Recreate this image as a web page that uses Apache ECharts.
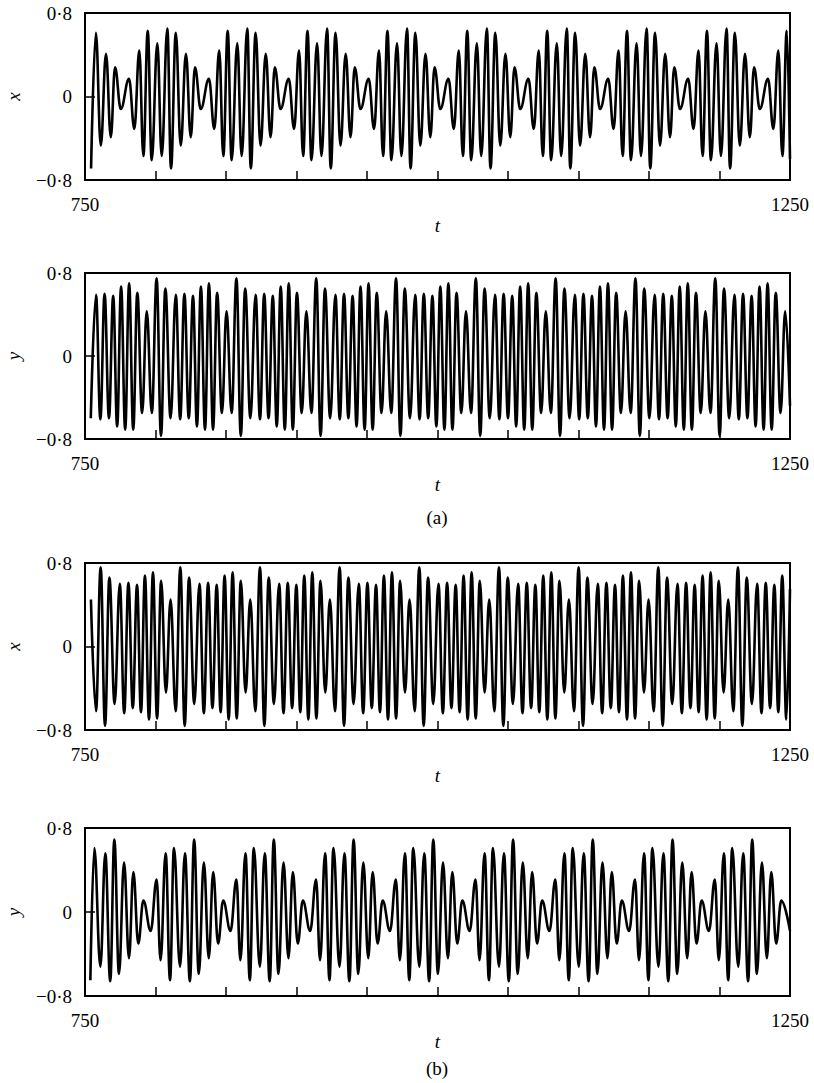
<!DOCTYPE html>
<html>
<head>
<meta charset="utf-8">
<script src="https://cdn.jsdelivr.net/npm/echarts@6/dist/echarts.min.js"></script>
<style>html,body{margin:0;padding:0;background:#fff}#c{width:814px;height:1083px}</style>
</head>
<body>
<div id="c"></div>
<script>
// ---- tick labels ----
const xTickLabels = [750, 1250];
const yTickLabels = {'-0.8': '\u22120\u00b78', '0': '0', '0.8': '0\u00b78'};
const panelYNames = ['x', 'y', 'x', 'y'];
const captions = ['(a)', '(b)'];

// ---- panel (a) x : turning points ----
const A_X_T = [
 754.3, 757.7, 761.2, 764.9, 768.3, 771.3, 775.4, 781.2, 785.0, 788.5, 791.4, 794.5, 797.3, 801.3, 804.4, 808.4,
 811.0, 814.4, 817.9, 821.6, 825.0, 828.0, 832.1, 837.9, 841.7, 845.2, 848.1, 851.2, 854.0, 858.0, 861.1, 865.1,
 867.6, 871.0, 874.5, 878.2, 881.6, 884.6, 888.7, 894.5, 898.3, 901.8, 904.7, 907.8, 910.6, 914.6, 917.7, 921.7,
 924.3, 927.7, 931.2, 934.9, 938.3, 941.3, 945.4, 951.2, 955.0, 958.5, 961.4, 964.5, 967.3, 971.3, 974.4, 978.4,
 980.9, 984.3, 987.8, 991.5, 994.9, 997.9, 1002.0, 1007.8, 1011.6, 1015.1, 1018.0, 1021.1, 1023.9, 1027.9, 1031.0, 1035.0,
 1037.6, 1041.0, 1044.5, 1048.2, 1051.6, 1054.6, 1058.7, 1064.5, 1068.3, 1071.8, 1074.7, 1077.8, 1080.6, 1084.6, 1087.7, 1091.7,
 1094.2, 1097.6, 1101.1, 1104.8, 1108.2, 1111.2, 1115.3, 1121.1, 1124.9, 1128.4, 1131.3, 1134.4, 1137.2, 1141.2, 1144.3, 1148.3,
 1150.9, 1154.3, 1157.8, 1161.5, 1164.9, 1167.9, 1172.0, 1177.8, 1181.6, 1185.1, 1188.0, 1191.1, 1193.9, 1197.9, 1201.0, 1205.0,
 1207.5, 1210.9, 1214.4, 1218.1, 1221.5, 1224.5, 1228.6, 1234.4, 1238.2, 1241.7, 1244.6, 1247.7, 1250
];
const A_X_V = [
 -0.69, 0.61, -0.47, 0.41, -0.39, 0.28, -0.12, 0.17, -0.31, 0.44, -0.57, 0.63, -0.61, 0.51, -0.57, 0.65,
 -0.69, 0.61, -0.47, 0.41, -0.39, 0.28, -0.12, 0.17, -0.31, 0.44, -0.57, 0.63, -0.61, 0.51, -0.57, 0.65,
 -0.69, 0.61, -0.47, 0.41, -0.39, 0.28, -0.12, 0.17, -0.31, 0.44, -0.57, 0.63, -0.61, 0.51, -0.57, 0.65,
 -0.69, 0.61, -0.47, 0.41, -0.39, 0.28, -0.12, 0.17, -0.31, 0.44, -0.57, 0.63, -0.61, 0.51, -0.57, 0.65,
 -0.69, 0.61, -0.47, 0.41, -0.39, 0.28, -0.12, 0.17, -0.31, 0.44, -0.57, 0.63, -0.61, 0.51, -0.57, 0.65,
 -0.69, 0.61, -0.47, 0.41, -0.39, 0.28, -0.12, 0.17, -0.31, 0.44, -0.57, 0.63, -0.61, 0.51, -0.57, 0.65,
 -0.69, 0.61, -0.47, 0.41, -0.39, 0.28, -0.12, 0.17, -0.31, 0.44, -0.57, 0.63, -0.61, 0.51, -0.57, 0.65,
 -0.69, 0.61, -0.47, 0.41, -0.39, 0.28, -0.12, 0.17, -0.31, 0.44, -0.57, 0.63, -0.61, 0.51, -0.57, 0.65,
 -0.69, 0.61, -0.47, 0.41, -0.39, 0.28, -0.12, 0.17, -0.31, 0.44, -0.57, 0.63, -0.60
];

// ---- panel (a) y ----
const A_Y_T = [
 754.1, 757.8, 760.9, 763.9, 767.0, 770.0, 772.8, 775.6, 778.5, 781.3, 784.2, 787.1, 790.5, 793.8, 797.4,
 800.8, 803.9, 807.0, 810.7, 814.4, 817.5, 820.5, 823.6, 826.6, 829.4, 832.2, 835.1, 837.9, 840.8, 843.7, 847.1, 850.4, 854.0,
 857.4, 860.5, 863.6, 867.3, 871.0, 874.1, 877.1, 880.2, 883.2, 886.0, 888.8, 891.7, 894.5, 897.4, 900.3, 903.7, 907.0, 910.6,
 914.0, 917.1, 920.2, 923.9, 927.6, 930.7, 933.7, 936.8, 939.8, 942.6, 945.4, 948.3, 951.1, 954.0, 956.9, 960.3, 963.6, 967.2,
 970.6, 973.7, 976.8, 980.5, 984.2, 987.3, 990.3, 993.4, 996.4, 999.2, 1002.0, 1004.9, 1007.7, 1010.6, 1013.5, 1016.9, 1020.2, 1023.8,
 1027.2, 1030.3, 1033.4, 1037.1, 1040.8, 1043.9, 1046.9, 1050.0, 1053.0, 1055.8, 1058.6, 1061.5, 1064.3, 1067.2, 1070.1, 1073.5, 1076.8, 1080.4,
 1083.8, 1086.9, 1090.0, 1093.7, 1097.4, 1100.5, 1103.5, 1106.6, 1109.6, 1112.4, 1115.2, 1118.1, 1120.9, 1123.8, 1126.7, 1130.1, 1133.4, 1137.0,
 1140.4, 1143.5, 1146.6, 1150.3, 1154.0, 1157.1, 1160.1, 1163.2, 1166.2, 1169.0, 1171.8, 1174.7, 1177.5, 1180.4, 1183.3, 1186.7, 1190.0, 1193.6,
 1197.0, 1200.1, 1203.2, 1206.9, 1210.6, 1213.7, 1216.7, 1219.8, 1222.8, 1225.6, 1228.4, 1231.3, 1234.1, 1237.0, 1239.9, 1243.3, 1246.6, 1250
];
const A_Y_V = [
 -0.60, 0.59, -0.61, 0.60, -0.60, 0.58, -0.68, 0.67, -0.71, 0.70, -0.71, 0.61, -0.55, 0.43, -0.55,
 0.75, -0.77, 0.65, -0.60, 0.59, -0.61, 0.60, -0.60, 0.58, -0.68, 0.67, -0.71, 0.70, -0.71, 0.61, -0.55, 0.43, -0.55,
 0.75, -0.77, 0.65, -0.60, 0.59, -0.61, 0.60, -0.60, 0.58, -0.68, 0.67, -0.71, 0.70, -0.71, 0.61, -0.55, 0.43, -0.55,
 0.75, -0.77, 0.65, -0.60, 0.59, -0.61, 0.60, -0.60, 0.58, -0.68, 0.67, -0.71, 0.70, -0.71, 0.61, -0.55, 0.43, -0.55,
 0.75, -0.77, 0.65, -0.60, 0.59, -0.61, 0.60, -0.60, 0.58, -0.68, 0.67, -0.71, 0.70, -0.71, 0.61, -0.55, 0.43, -0.55,
 0.75, -0.77, 0.65, -0.60, 0.59, -0.61, 0.60, -0.60, 0.58, -0.68, 0.67, -0.71, 0.70, -0.71, 0.61, -0.55, 0.43, -0.55,
 0.75, -0.77, 0.65, -0.60, 0.59, -0.61, 0.60, -0.60, 0.58, -0.68, 0.67, -0.71, 0.70, -0.71, 0.61, -0.55, 0.43, -0.55,
 0.75, -0.77, 0.65, -0.60, 0.59, -0.61, 0.60, -0.60, 0.58, -0.68, 0.67, -0.71, 0.70, -0.71, 0.61, -0.55, 0.43, -0.55,
 0.75, -0.77, 0.65, -0.60, 0.59, -0.61, 0.60, -0.60, 0.58, -0.68, 0.67, -0.71, 0.70, -0.71, 0.61, -0.55, 0.43, -0.48
];

// ---- panel (b) x ----
const B_X_T = [
 754.2, 757.8,
 761.1, 764.2, 767.3, 771.0, 774.7, 777.8, 780.8, 783.9, 786.9, 789.7, 792.5, 795.4, 798.2, 801.1, 804.0, 807.4, 810.7, 814.3,
 817.6, 820.7, 823.8, 827.5, 831.2, 834.3, 837.3, 840.4, 843.4, 846.2, 849.0, 851.9, 854.7, 857.6, 860.5, 863.9, 867.2, 870.8,
 874.1, 877.2, 880.3, 884.0, 887.7, 890.8, 893.8, 896.9, 899.9, 902.7, 905.5, 908.4, 911.2, 914.1, 917.0, 920.4, 923.7, 927.3,
 930.6, 933.7, 936.8, 940.5, 944.2, 947.3, 950.3, 953.4, 956.4, 959.2, 962.0, 964.9, 967.7, 970.6, 973.5, 976.9, 980.2, 983.8,
 987.1, 990.2, 993.3, 997.0, 1000.7, 1003.8, 1006.8, 1009.9, 1012.9, 1015.7, 1018.5, 1021.4, 1024.2, 1027.1, 1030.0, 1033.4, 1036.7, 1040.3,
 1043.6, 1046.7, 1049.8, 1053.5, 1057.2, 1060.3, 1063.3, 1066.4, 1069.4, 1072.2, 1075.0, 1077.9, 1080.7, 1083.6, 1086.5, 1089.9, 1093.2, 1096.8,
 1100.1, 1103.2, 1106.3, 1110.0, 1113.7, 1116.8, 1119.8, 1122.9, 1125.9, 1128.7, 1131.5, 1134.4, 1137.2, 1140.1, 1143.0, 1146.4, 1149.7, 1153.3,
 1156.6, 1159.7, 1162.8, 1166.5, 1170.2, 1173.3, 1176.3, 1179.4, 1182.4, 1185.2, 1188.0, 1190.9, 1193.7, 1196.6, 1199.5, 1202.9, 1206.2, 1209.8,
 1213.1, 1216.2, 1219.3, 1223.0, 1226.7, 1229.8, 1232.8, 1235.9, 1238.9, 1241.7, 1244.5, 1247.4, 1250
];
const B_X_V = [
 0.45, -0.62,
 0.76, -0.76, 0.66, -0.55, 0.60, -0.64, 0.61, -0.59, 0.59, -0.63, 0.68, -0.70, 0.71, -0.69, 0.63, -0.44, 0.45, -0.62,
 0.76, -0.76, 0.66, -0.55, 0.60, -0.64, 0.61, -0.59, 0.59, -0.63, 0.68, -0.70, 0.71, -0.69, 0.63, -0.44, 0.45, -0.62,
 0.76, -0.76, 0.66, -0.55, 0.60, -0.64, 0.61, -0.59, 0.59, -0.63, 0.68, -0.70, 0.71, -0.69, 0.63, -0.44, 0.45, -0.62,
 0.76, -0.76, 0.66, -0.55, 0.60, -0.64, 0.61, -0.59, 0.59, -0.63, 0.68, -0.70, 0.71, -0.69, 0.63, -0.44, 0.45, -0.62,
 0.76, -0.76, 0.66, -0.55, 0.60, -0.64, 0.61, -0.59, 0.59, -0.63, 0.68, -0.70, 0.71, -0.69, 0.63, -0.44, 0.45, -0.62,
 0.76, -0.76, 0.66, -0.55, 0.60, -0.64, 0.61, -0.59, 0.59, -0.63, 0.68, -0.70, 0.71, -0.69, 0.63, -0.44, 0.45, -0.62,
 0.76, -0.76, 0.66, -0.55, 0.60, -0.64, 0.61, -0.59, 0.59, -0.63, 0.68, -0.70, 0.71, -0.69, 0.63, -0.44, 0.45, -0.62,
 0.76, -0.76, 0.66, -0.55, 0.60, -0.64, 0.61, -0.59, 0.59, -0.63, 0.68, -0.70, 0.71, -0.69, 0.63, -0.44, 0.45, -0.62,
 0.76, -0.76, 0.66, -0.55, 0.60, -0.64, 0.61, -0.59, 0.59, -0.63, 0.68, -0.70, 0.55
];

// ---- panel (b) y ----
const B_Y_T = [
 753.8, 756.6, 760.9, 764.4, 767.9,
 770.8, 774.1, 777.7, 781.2, 784.3, 787.8, 791.4, 796.6, 800.8, 803.6, 807.2, 810.3, 813.1, 817.4, 820.9, 824.4,
 827.4, 830.7, 834.3, 837.8, 840.9, 844.4, 848.0, 853.2, 857.4, 860.2, 863.8, 866.9, 869.7, 874.0, 877.5, 881.0,
 883.9, 887.2, 890.8, 894.3, 897.4, 900.9, 904.5, 909.7, 913.9, 916.7, 920.3, 923.4, 926.2, 930.5, 934.0, 937.5,
 940.5, 943.8, 947.4, 950.9, 954.0, 957.5, 961.1, 966.3, 970.5, 973.3, 976.9, 980.0, 982.8, 987.1, 990.6, 994.1,
 997.0, 1000.3, 1003.9, 1007.4, 1010.5, 1014.0, 1017.6, 1022.8, 1027.0, 1029.8, 1033.4, 1036.5, 1039.3, 1043.6, 1047.1, 1050.6,
 1053.6, 1056.9, 1060.5, 1064.0, 1067.1, 1070.6, 1074.2, 1079.4, 1083.6, 1086.4, 1090.0, 1093.1, 1095.9, 1100.2, 1103.7, 1107.2,
 1110.1, 1113.4, 1117.0, 1120.5, 1123.6, 1127.1, 1130.7, 1135.9, 1140.1, 1142.9, 1146.5, 1149.6, 1152.4, 1156.7, 1160.2, 1163.7,
 1166.7, 1170.0, 1173.6, 1177.1, 1180.2, 1183.7, 1187.3, 1192.5, 1196.7, 1199.5, 1203.1, 1206.2, 1209.0, 1213.3, 1216.8, 1220.3,
 1223.2, 1226.5, 1230.1, 1233.6, 1236.7, 1240.2, 1243.8, 1250
];
const B_Y_V = [
 -0.65, 0.61, -0.52, 0.56, -0.66,
 0.69, -0.59, 0.47, -0.44, 0.38, -0.30, 0.11, -0.18, 0.31, -0.46, 0.56, -0.65, 0.61, -0.52, 0.56, -0.66,
 0.69, -0.59, 0.47, -0.44, 0.38, -0.30, 0.11, -0.18, 0.31, -0.46, 0.56, -0.65, 0.61, -0.52, 0.56, -0.66,
 0.69, -0.59, 0.47, -0.44, 0.38, -0.30, 0.11, -0.18, 0.31, -0.46, 0.56, -0.65, 0.61, -0.52, 0.56, -0.66,
 0.69, -0.59, 0.47, -0.44, 0.38, -0.30, 0.11, -0.18, 0.31, -0.46, 0.56, -0.65, 0.61, -0.52, 0.56, -0.66,
 0.69, -0.59, 0.47, -0.44, 0.38, -0.30, 0.11, -0.18, 0.31, -0.46, 0.56, -0.65, 0.61, -0.52, 0.56, -0.66,
 0.69, -0.59, 0.47, -0.44, 0.38, -0.30, 0.11, -0.18, 0.31, -0.46, 0.56, -0.65, 0.61, -0.52, 0.56, -0.66,
 0.69, -0.59, 0.47, -0.44, 0.38, -0.30, 0.11, -0.18, 0.31, -0.46, 0.56, -0.65, 0.61, -0.52, 0.56, -0.66,
 0.69, -0.59, 0.47, -0.44, 0.38, -0.30, 0.11, -0.18, 0.31, -0.46, 0.56, -0.65, 0.61, -0.52, 0.56, -0.66,
 0.69, -0.59, 0.47, -0.44, 0.38, -0.30, 0.11, -0.18
];

const panels = [[A_X_T, A_X_V], [A_Y_T, A_Y_V], [B_X_T, B_X_V], [B_Y_T, B_Y_V]];

// ---- layout ----
const FONT = 'Liberation Serif, Times New Roman, DejaVu Serif, serif';
const gridBoxes = [
  {left: 85, top: 13, width: 705, height: 167},
  {left: 85, top: 273, width: 705, height: 166},
  {left: 85, top: 563, width: 705, height: 167},
  {left: 85, top: 828, width: 705, height: 168}
];

function zip(ts, vs) {
  const n = Math.min(ts.length, vs.length);
  const out = [];
  for (let i = 0; i < n; i++) out.push([ts[i], vs[i]]);
  return out;
}

const option = {
  animation: false,
  backgroundColor: '#fff',
  grid: gridBoxes.map(g => Object.assign({
    show: true, borderColor: '#000', borderWidth: 2, backgroundColor: 'transparent',
    containLabel: false, outerBoundsMode: 'none'
  }, g)),
  xAxis: gridBoxes.map((g, i) => ({
    type: 'value', gridIndex: i, min: 750, max: 1250, interval: 50,
    axisLine: {show: false, onZero: false},
    axisTick: {show: true, inside: true, length: 9, lineStyle: {color: '#000', width: 1.5}},
    splitLine: {show: false},
    axisLabel: {
      show: true, margin: 15, color: '#000', fontFamily: FONT, fontSize: 19,
      formatter: v => (xTickLabels.indexOf(v) >= 0 ? String(v) : '')
    },
    name: 't', nameLocation: 'middle', nameGap: 36,
    nameTextStyle: {color: '#000', fontFamily: FONT, fontSize: 19, fontStyle: 'italic'}
  })),
  yAxis: gridBoxes.map((g, i) => ({
    type: 'value', gridIndex: i, min: -0.8, max: 0.8, interval: 0.8,
    axisLine: {show: false, onZero: false},
    axisTick: {show: true, inside: true, length: 10, lineStyle: {color: '#000', width: 1.5}},
    splitLine: {show: false},
    axisLabel: {
      show: true, margin: 13, color: '#000', fontFamily: FONT, fontSize: 19,
      formatter: v => {
        const k = String(Math.round(v * 10) / 10);
        return yTickLabels[k] !== undefined ? yTickLabels[k] : '';
      }
    },
    name: panelYNames[i], nameLocation: 'middle', nameGap: 62, nameRotate: 90,
    nameTextStyle: {color: '#000', fontFamily: FONT, fontSize: 19, fontStyle: 'italic'}
  })),
  series: panels.map((p, i) => ({
    type: 'line', xAxisIndex: i, yAxisIndex: i,
    data: zip(p[0], p[1]),
    showSymbol: false, symbol: 'none',
    smooth: 0.4, smoothMonotone: 'x',
    lineStyle: {color: '#000', width: 2.6},
    silent: true, clip: true
  })),
  graphic: [
    {type: 'text', x: 437, y: 517, style: {text: captions[0], fill: '#000', fontFamily: FONT, fontSize: 19, textAlign: 'center', textVerticalAlign: 'middle'}},
    {type: 'text', x: 437, y: 1068, style: {text: captions[1], fill: '#000', fontFamily: FONT, fontSize: 19, textAlign: 'center', textVerticalAlign: 'middle'}}
  ]
};

const chart = echarts.init(document.getElementById('c'), null, {renderer: 'svg', width: 814, height: 1083});
chart.setOption(option);
</script>
</body>
</html>
